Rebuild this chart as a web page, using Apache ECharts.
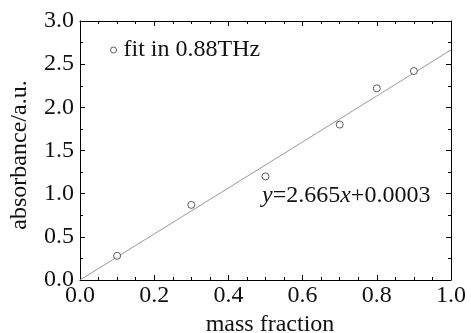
<!DOCTYPE html>
<html><head><meta charset="utf-8">
<script src="https://cdn.jsdelivr.net/npm/echarts@6/dist/echarts.min.js"></script>
<style>html,body{margin:0;padding:0;background:#fff}#c{width:471px;height:333px}</style>
</head><body><div id="c"></div>
<script>
const massFraction = [0.1, 0.3, 0.5, 0.7, 0.8, 0.9];
const absorbance = [0.28, 0.87, 1.2, 1.8, 2.22, 2.42];
const fitX = [0, 1];
const fitY = [0.0003, 2.6653];
const seriesName = 'fit in 0.88THz';
const equationText = '{i|y}=2.665{i|x}+0.0003';
const xName = 'mass fraction';
const yName = 'absorbance/a.u.';

const FONT = '"Liberation Serif","Times New Roman",serif';
const FS = 24;
const chart = echarts.init(document.getElementById('c'));
const axisLine = {show: true, onZero: false, lineStyle: {color: '#000', width: 1}};
const axisTick = {show: true, inside: true, length: 5, lineStyle: {color: '#000'}};
chart.setOption({
  animation: false,
  backgroundColor: '#fff',
  textStyle: {fontFamily: FONT},
  grid: {left: 80, right: 20, top: 21, bottom: 53, containLabel: false, outerBoundsMode: 'none'},
  legend: {
    left: 105, top: 33, itemWidth: 6, itemHeight: 6, itemGap: 5,
    data: [{name: seriesName, icon: 'circle', itemStyle: {color: 'transparent', borderColor: '#333', borderWidth: 1}}],
    textStyle: {fontFamily: FONT, fontSize: FS, color: '#111', padding: [0, 0, 0, 2]}
  },
  xAxis: [
    {type: 'value', position: 'bottom', min: 0, max: 1, interval: 0.2,
      axisLine, axisTick, splitLine: {show: false},
      minorTick: {show: true, splitNumber: 4, length: 3, lineStyle: {color: '#000'}},
      axisLabel: {color: '#111', fontSize: FS, fontFamily: FONT, margin: 4, formatter: v => v.toFixed(1)},
      name: xName, nameLocation: 'middle', nameGap: 33,
      nameTextStyle: {color: '#111', fontSize: FS, fontFamily: FONT, padding: [0, 0, 0, 9]}},
    {type: 'value', position: 'top', min: 0, max: 1, interval: 0.2,
      axisLine, axisTick,
      minorTick: {show: true, splitNumber: 4, length: 3, lineStyle: {color: '#000'}},
      axisLabel: {show: false}, splitLine: {show: false}}
  ],
  yAxis: [
    {type: 'value', position: 'left', min: 0, max: 3, interval: 0.5,
      axisLine, axisTick,
      minorTick: {show: true, splitNumber: 2, length: 3, lineStyle: {color: '#000'}},
      splitLine: {show: false},
      axisLabel: {color: '#111', fontSize: FS, fontFamily: FONT, margin: 6, formatter: v => v.toFixed(1)},
      name: yName, nameLocation: 'middle', nameGap: 48, nameRotate: 90,
      nameTextStyle: {color: '#111', fontSize: FS, fontFamily: FONT, padding: [0, 9, 0, 0]}},
    {type: 'value', position: 'right', min: 0, max: 3, interval: 0.5,
      axisLine, axisTick,
      minorTick: {show: true, splitNumber: 2, length: 3, lineStyle: {color: '#000'}},
      axisLabel: {show: false}, splitLine: {show: false}}
  ],
  series: [
    {type: 'line', name: 'fit', data: fitX.map((x, i) => [x, fitY[i]]),
      showSymbol: false, symbol: 'none', lineStyle: {color: '#999', width: 1}, z: 1,
      markPoint: {
        symbol: 'rect', symbolSize: 1, itemStyle: {color: 'transparent'},
        data: [{coord: [0.5, 0.98], label: {show: true, position: 'right', offset: [-9, 0],
          formatter: equationText, color: '#111', fontSize: FS, fontFamily: FONT,
          rich: {i: {fontStyle: 'italic', fontSize: FS, fontFamily: FONT, color: '#111'}}}}]
      }},
    {type: 'scatter', name: seriesName, data: massFraction.map((x, i) => [x, absorbance[i]]),
      symbol: 'circle', symbolSize: 7,
      itemStyle: {color: '#fff', borderColor: '#333', borderWidth: 1}, z: 3}
  ]
});
</script></body></html>
